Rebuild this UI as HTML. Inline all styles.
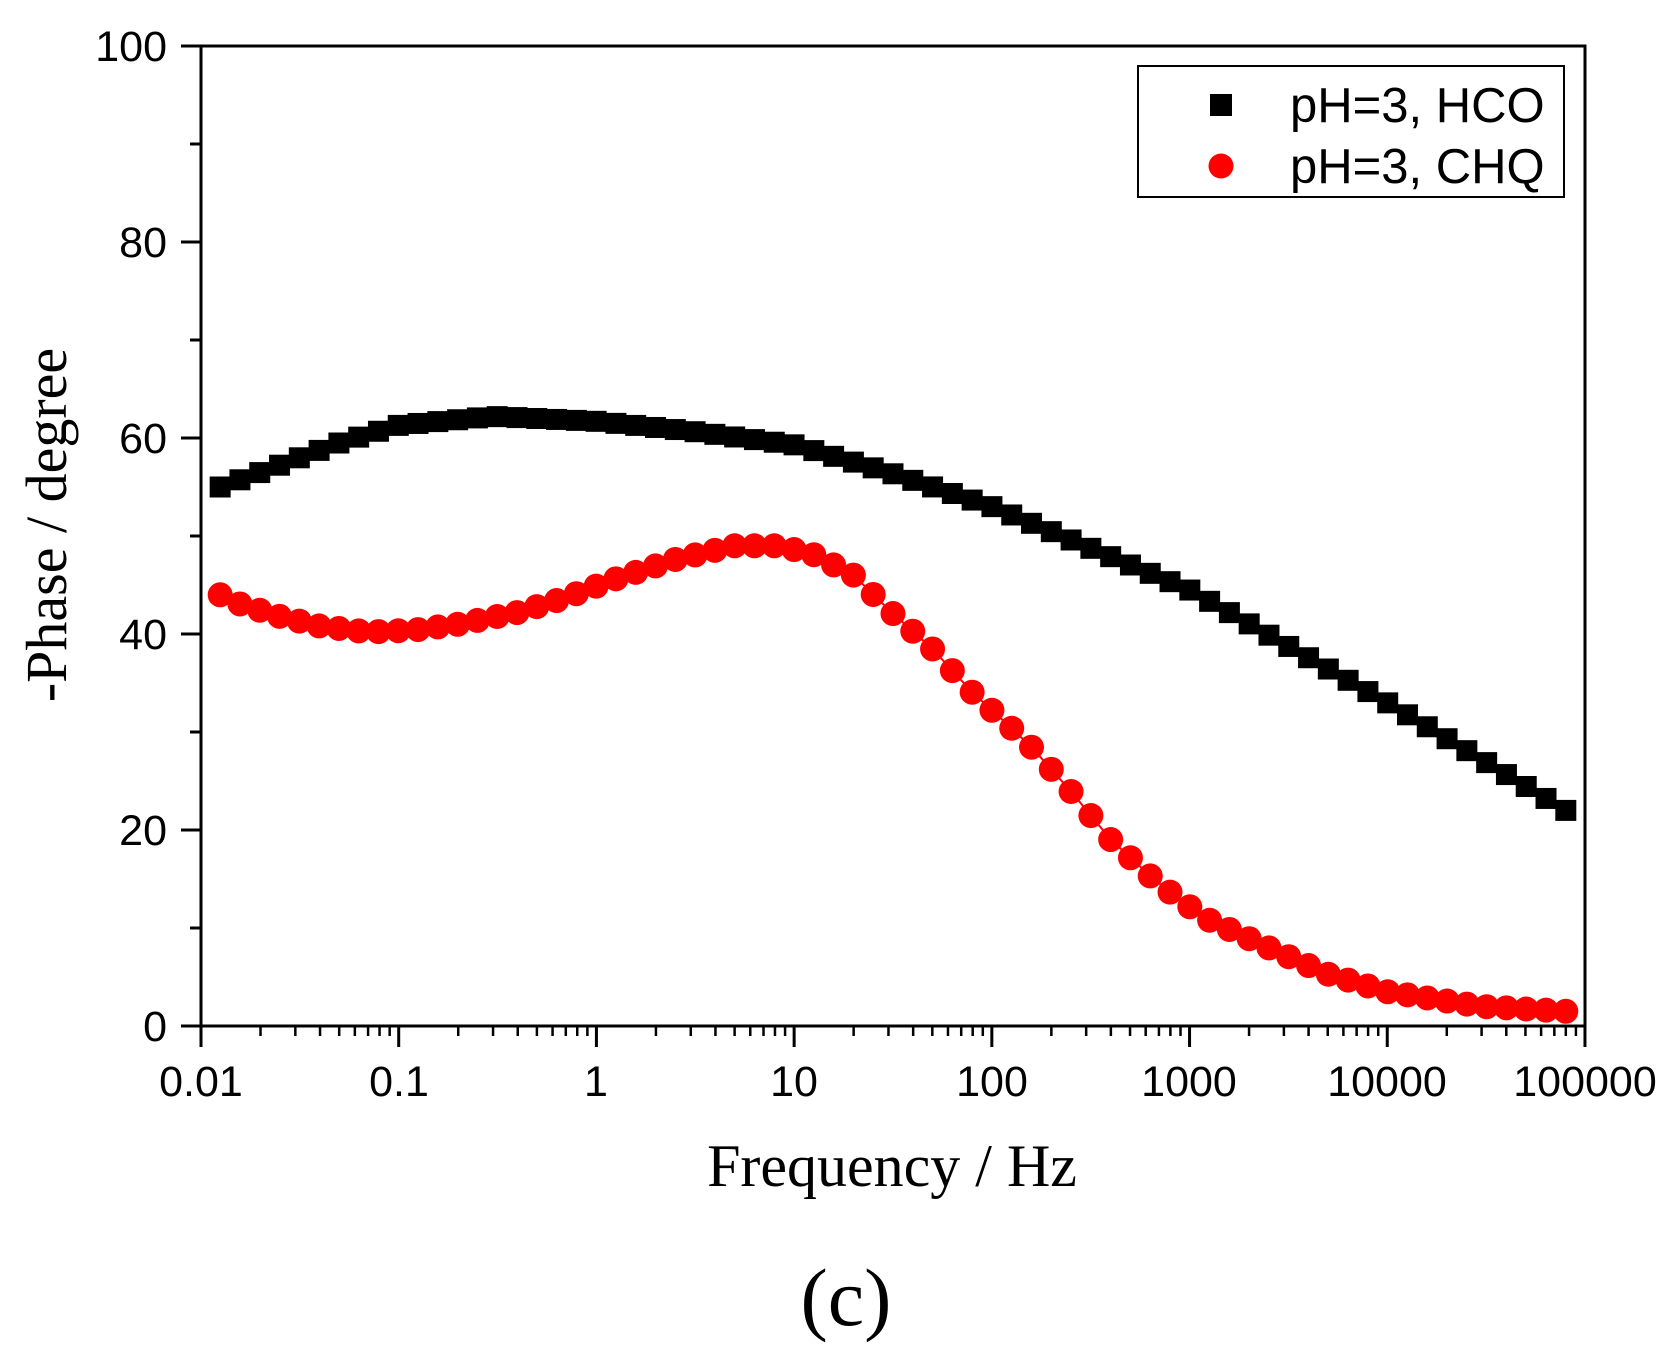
<!DOCTYPE html>
<html><head><meta charset="utf-8"><style>html,body{margin:0;padding:0;background:#fff}</style></head>
<body>
<svg id="s" width="1679" height="1360" xmlns="http://www.w3.org/2000/svg" style="display:block">
<rect width="1679" height="1360" fill="#fff"/>
<g id="g"></g>
<rect x="201" y="46" width="1384" height="980" fill="none" stroke="#000" stroke-width="3"/>
<g font-family="Liberation Sans, sans-serif" font-size="43" fill="#000" text-anchor="end">
<text x="167" y="61">100</text><text x="167" y="257">80</text><text x="167" y="453">60</text>
<text x="167" y="649">40</text><text x="167" y="845">20</text><text x="167" y="1041">0</text>
</g>
<g font-family="Liberation Sans, sans-serif" font-size="43" fill="#000" text-anchor="middle">
<text x="201" y="1096">0.01</text><text x="399" y="1096">0.1</text><text x="596" y="1096">1</text>
<text x="794" y="1096">10</text><text x="992" y="1096">100</text><text x="1189" y="1096">1000</text>
<text x="1387" y="1096">10000</text><text x="1585" y="1096">100000</text>
</g>
<text x="892" y="1186" font-family="Liberation Serif, serif" font-size="60" text-anchor="middle">Frequency / Hz</text>
<text transform="translate(66,525) rotate(-90)" font-family="Liberation Serif, serif" font-size="58" text-anchor="middle">-Phase / degree</text>
<text x="846" y="1325" font-family="Liberation Serif, serif" font-size="82" text-anchor="middle">(c)</text>
<rect x="1138" y="66" width="426" height="131" fill="#fff" stroke="#000" stroke-width="2"/>
<rect x="1210" y="94" width="22" height="22" fill="#000"/>
<circle cx="1221" cy="166" r="12.5" fill="#f00"/>
<g font-family="Liberation Sans, sans-serif" font-size="49" fill="#000">
<text x="1290" y="122">pH=3, HCO</text><text x="1290" y="183">pH=3, CHQ</text>
</g>
</svg>
<script>
const g=document.getElementById('g');let h='';
const X=f=>201+(Math.log10(f)+2)*197.71, Y=v=>1026-v*9.8;
for(let d=-2;d<=5;d++){const x=X(Math.pow(10,d));h+=`<line x1="${x}" y1="1026" x2="${x}" y2="1047" stroke="#000" stroke-width="3"/>`;
 if(d<5)for(let k=2;k<10;k++){const xx=X(k*Math.pow(10,d));h+=`<line x1="${xx}" y1="1026" x2="${xx}" y2="1036" stroke="#000" stroke-width="2.5"/>`;}}
for(let v=0;v<=100;v+=10){const y=Y(v);h+=`<line x1="${v%20?190:181}" y1="${y}" x2="201" y2="${y}" stroke="#000" stroke-width="3"/>`;}
function interp(pts,f){const l=Math.log10(f);for(let i=0;i<pts.length-1;i++){const a=Math.log10(pts[i][0]),b=Math.log10(pts[i+1][0]);if(l>=a&&l<=b){const t=(l-a)/(b-a);return pts[i][1]+t*(pts[i+1][1]-pts[i][1]);}}return pts[pts.length-1][1];}
const B=[[0.0125,55],[0.02,56.5],[0.05,59.5],[0.1,61.3],[0.3,62.2],[1,61.7],[3,60.7],[10,59.3],[30,56.5],[100,53],[1000,44.5],[10000,33],[80000,22]];
const R=[[0.0125,44],[0.016,43],[0.025,41.8],[0.04,40.8],[0.07,40.2],[0.12,40.4],[0.2,41],[0.4,42.2],[0.7,43.7],[1.2,45.5],[2.5,47.6],[5,49],[8,49],[12,48.3],[20,46],[30,42.5],[50,38.5],[80,34],[150,29],[250,24],[400,19],[700,14.5],[1200,11],[2500,8],[5000,5.3],[10000,3.5],[30000,2],[80000,1.5]];
const N=68;let sq='',ci='',pl='';
for(let i=0;i<=N;i++){const l=Math.log10(0.0125)+i*(Math.log10(80000)-Math.log10(0.0125))/N;const f=Math.pow(10,l);const x=X(f);
 sq+=`<rect x="${x-10.5}" y="${Y(interp(B,f))-10.5}" width="21" height="21" fill="#000"/>`;
 const yr=Y(interp(R,f));pl+=`${x},${yr} `;
 ci+=`<circle cx="${x}" cy="${yr}" r="12.5" fill="#f00"/>`;}
g.innerHTML=h+sq+`<polyline points="${pl}" fill="none" stroke="#f00" stroke-width="2"/>`+ci;
</script>
</body></html>
